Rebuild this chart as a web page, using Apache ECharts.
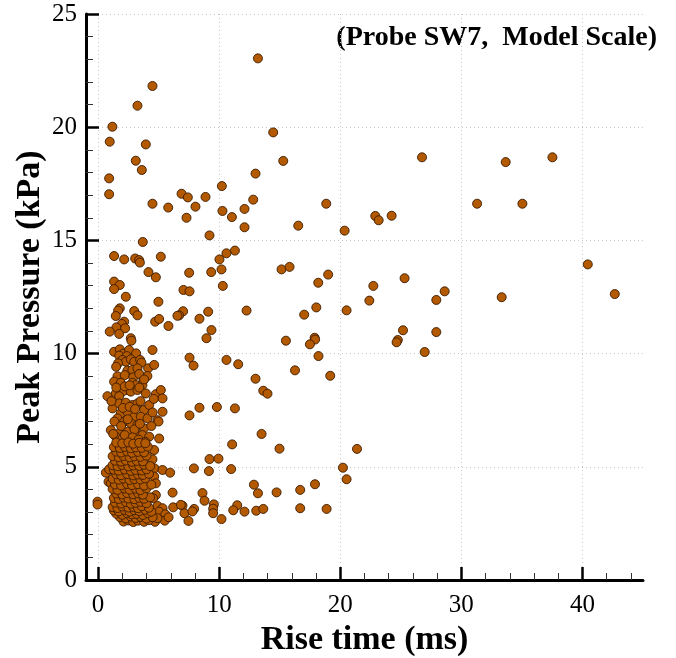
<!DOCTYPE html>
<html>
<head>
<meta charset="utf-8">
<script src="https://cdn.jsdelivr.net/npm/echarts@6/dist/echarts.min.js"></script>
<style>
html,body{margin:0;padding:0;background:#fff;}
#chart{width:676px;height:658px;}
</style>
</head>
<body>
<div id="chart"></div>
<script>
// Tick values
const xMajorTicks = [0, 10, 20, 30, 40];
const xMinorTicks = [2, 4, 6, 8, 12, 14, 16, 18, 22, 24, 26, 28, 32, 34, 36, 38, 42, 44];
const xTitle = 'Rise time (ms)';
const yTitle = 'Peak Pressure (kPa)';
const annotation = '(Probe SW7,  Model Scale)';

// [rise time (ms), peak pressure (kPa)] — sparse points
const sparsePoints = [
  [4.49,21.82],[3.25,20.95],[1.18,20.02],[0.96,19.36],[3.94,19.24],[3.11,18.52],[3.61,18.11],[0.91,17.74],[0.91,17.04],
  [4.49,16.62],[5.79,16.45],[6.89,17.06],[7.41,16.9],[8.04,16.49],[8.87,16.92],[7.30,16.0],[9.20,15.22],[10.22,17.40],
  [10.27,16.30],[3.69,14.93],[1.32,14.31],[2.15,14.16],[3.06,14.2],[3.39,14.13],[3.45,14.02],[5.18,14.28],[10.02,14.16],
  [13.2,23.04],[14.46,19.77],[15.29,18.51],[13.0,17.95],[12.81,16.80],[11.05,16.03],[12.09,16.39],[12.09,15.58],
  [16.53,15.65],[18.84,16.62],[20.36,15.43],[22.89,16.08],[23.17,15.89],[24.24,16.09],[11.30,14.55],[10.6,14.43],
  [9.34,13.6],[10.19,13.72],[15.15,13.72],[15.81,13.83],[19.0,13.49],[18.18,13.13],[10.3,12.99],[22.73,12.99],[25.31,13.33],
  [26.75,18.67],[33.66,18.46],[37.52,18.67],[31.3,16.62],[35.04,16.62],[40.44,13.94],[42.67,12.63],[33.33,12.49],
  [28.62,12.75],[27.93,12.37],[25.18,11.03],[24.75,10.6],[24.65,10.5],[27.93,10.95],[26.97,10.07],
  [7.05,12.81],[7.55,12.75],[22.4,12.34],[20.52,11.91],[18.02,12.04],[17.02,11.72],[12.26,11.9],[7.02,11.87],[6.69,11.69],
  [9.09,11.85],[8.37,11.54],[9.36,11.04],[8.95,10.68],[15.51,10.57],[17.88,10.7],[17.92,10.62],[17.49,10.41],[18.2,9.89],
  [7.55,9.82],[7.88,9.47],[10.6,9.72],[11.57,9.53],[16.26,9.26],[19.17,9.02],[13.0,8.89],[13.64,8.36],[13.99,8.23],
  [8.37,7.61],[9.81,7.64],[11.3,7.58],[7.55,7.27],[13.5,6.45],[11.07,5.99],[14.98,5.8],[21.38,5.79],[20.22,4.96],[20.52,4.45],
  [9.2,5.34],[9.94,5.36],[7.91,4.93],[9.15,4.81],[10.99,4.9],[12.87,4.21],[13.2,3.83],[14.74,3.87],[16.69,3.98],[17.91,4.23],
  [8.62,3.84],[8.79,3.5],[6.97,3.28],[7.13,2.95],[7.93,3.14],[7.79,3.03],[7.46,2.61],[9.56,3.34],[9.5,3.15],[9.5,2.95],
  [10.19,2.69],[11.49,3.3],[11.16,3.08],[12.09,3.02],[13.06,3.06],[13.64,3.14],[16.69,3.17],[18.87,3.14]
];

// upper part of the main cluster (about 8.8–14 kPa)
const upperCluster = [
  [4.16,13.6],[4.77,13.37],[7.52,13.57],[1.32,13.18],[1.79,13.03],[1.32,12.85],[2.29,12.51],[4.98,12.29],[1.79,12.0],
  [1.65,11.9],[1.46,11.66],[2.98,11.88],[3.25,11.69],[6.55,11.67],[4.71,11.41],[5.04,11.53],[5.81,11.22],[2.15,11.41],
  [1.96,11.31],[1.51,11.16],[2.23,11.12],[0.96,10.97],[1.74,10.87],[2.7,10.68],[2.75,10.57],[1.32,10.08],[1.79,10.19],
  [2.09,10.0],[2.56,10.16],[3.14,10.01],[4.49,10.16],[1.74,9.91],[2.37,9.89],[2.01,9.72],[2.29,9.64],[2.7,9.75],[1.65,9.57],
  [1.49,9.42],[2.98,9.64],[3.47,9.72],[3.58,9.6],[2.42,9.25],[2.83,9.28],[3.25,9.35],[4.13,9.35],[4.63,9.5],[4.07,9.01],[3.74,8.83],
  [1.6,9.0],[2.2,9.05],[2.9,8.95],[3.4,9.1]
];

// middle part of the main cluster (about 6–8.8 kPa)
const middleCluster = [
  [1.32,8.76],[1.87,8.71],[2.84,8.71],[3.11,8.61],[3.66,8.61],[3.8,8.86],[2.43,8.39],[2.01,8.32],[1.46,8.24],[0.77,8.12],
  [1.74,8.12],[2.7,8.32],[3.25,8.39],[3.94,8.24],[4.77,8.21],[5.18,8.39],[5.32,8.02],[1.19,7.58],[1.74,7.8],[2.29,7.83],
  [2.84,7.73],[3.25,7.8],[3.8,7.51],[4.22,7.73],[1.87,7.36],[2.43,7.43],[2.98,7.21],[3.53,7.21],[4.08,7.14],[1.6,7.14],
  [2.15,6.99],[2.7,6.92],[3.25,6.84],[3.8,6.7],[1.05,6.62],[1.74,6.48],[2.43,6.55],[3.11,6.48],[3.66,6.4],[4.22,6.33],
  [4.9,7.06],[4.99,7.0],[5.32,7.43],[5.04,6.25],[1.46,6.33],[2.01,6.25],[2.7,6.25],
  [1.5,8.5],[2.2,8.55],[2.6,8.6],[3.4,8.5],[1.1,7.9],[2.05,7.6],[2.6,7.65],[3.05,7.55],[3.5,7.9],[1.35,7.0],[1.9,6.8],
  [2.45,7.1],[3.0,6.65],[3.45,6.9],[4.4,6.8],[1.25,6.45],[2.2,6.4],[2.85,6.3],[3.35,6.2],[3.9,6.1],[4.5,7.4],[4.6,8.0]
];

// lower, densest part of the main cluster (about 2.5–6 kPa)
const lowerCluster = [
  [4.63,5.74],[4.49,5.33],[4.66,4.93],[5.32,4.86],[5.95,4.74],[6.15,3.86],[4.77,3.75],[4.55,3.61],[6.2,3.21],[4.91,3.27],
  [5.32,3.17],[5.04,3.02],[5.55,2.9],[4.7,2.57],[5.5,2.62],[5.82,2.77],[0.64,4.74],[0.86,4.34],[-0.05,3.46],[-0.05,3.33],
  [0.91,4.89],[1.05,4.27],[1.32,3.24],[6.83,3.32],[4.63,4.57],[4.77,4.27],[4.9,2.73],
  [2.1,2.58],[2.5,2.63],[2.9,2.56],[3.3,2.62],[3.8,2.57],[4.2,2.64],
  [1.8,2.78],[2.3,2.72],[2.7,2.8],[3.1,2.74],[3.5,2.79],[4.0,2.71],[4.5,2.77],
  [1.5,2.93],[2.0,2.88],[2.4,2.95],[2.8,2.9],[3.2,2.92],[3.7,2.87],[4.1,2.96],
  [1.3,3.07],[1.7,3.03],[2.2,3.09],[2.6,3.02],[3.0,3.08],[3.4,3.04],[3.9,3.1],[4.4,3.02],
  [1.2,3.22],[1.6,3.18],[2.0,3.25],[2.5,3.2],[2.9,3.23],[3.3,3.17],[3.6,3.26],[4.2,3.19],
  [1.4,3.42],[1.9,3.38],[2.3,3.44],[2.7,3.37],[3.1,3.41],[3.5,3.45],[4.0,3.39],
  [1.3,3.62],[1.7,3.58],[2.1,3.64],[2.5,3.6],[3.0,3.57],[3.4,3.63],[3.8,3.59],[4.3,3.65],
  [1.5,3.82],[2.0,3.78],[2.4,3.84],[2.9,3.79],[3.3,3.83],[3.7,3.77],
  [1.2,4.02],[1.6,3.98],[2.2,4.04],[2.6,3.99],[3.1,4.03],[3.5,3.97],[4.0,4.05],
  [1.4,4.22],[1.9,4.18],[2.4,4.24],[2.8,4.19],[3.3,4.23],[3.8,4.17],[4.4,4.21],
  [1.2,4.47],[1.7,4.43],[2.1,4.48],[2.6,4.42],[3.0,4.46],[3.5,4.44],[3.9,4.49],
  [1.5,4.67],[1.9,4.63],[2.4,4.68],[2.9,4.62],[3.3,4.66],[3.7,4.64],[4.2,4.69],
  [1.3,4.87],[1.7,4.83],[2.2,4.88],[2.7,4.82],[3.1,4.86],[3.6,4.84],[4.0,4.89],
  [1.2,5.07],[1.6,5.03],[2.0,5.08],[2.5,5.02],[2.9,5.06],[3.4,5.04],[3.8,5.09],[4.3,5.03],
  [1.4,5.27],[1.9,5.23],[2.3,5.28],[2.8,5.22],[3.2,5.26],[3.7,5.24],
  [1.2,5.47],[1.7,5.43],[2.1,5.48],[2.6,5.42],[3.0,5.46],[3.5,5.44],[4.0,5.49],
  [1.5,5.67],[1.9,5.63],[2.4,5.68],[2.8,5.62],[3.3,5.66],[3.8,5.64],
  [1.3,5.87],[1.8,5.83],[2.2,5.88],[2.7,5.82],[3.1,5.86],[3.6,5.84],[4.1,5.89],
  [1.5,6.07],[2.0,6.03],[2.5,6.08],[2.9,6.02],[3.4,6.06],[3.9,6.04]
];

const allPoints = [].concat(sparsePoints, upperCluster, middleCluster, lowerCluster);

const chart = echarts.init(document.getElementById('chart'), null, {renderer: 'canvas'});
const serif = '"Liberation Serif", "Times New Roman", serif';
const gridDot = {show: true, lineStyle: {color: '#c8c8c8', type: [1, 3], width: 1}};

chart.setOption({
  animation: false,
  backgroundColor: '#ffffff',
  grid: {left: 86, right: 33, top: 14, bottom: 78, containLabel: false, outerBoundsMode: 'none'},
  xAxis: [
    {
      type: 'value', min: -1, max: 45,
      name: xTitle, nameLocation: 'middle', nameGap: 39,
      nameTextStyle: {fontFamily: serif, fontWeight: 'bold', fontSize: 34, color: '#000'},
      axisLine: {show: true, onZero: false, lineStyle: {color: '#000', width: 3}},
      axisTick: {show: true, inside: true, length: 13, customValues: xMajorTicks, lineStyle: {color: '#000', width: 2.5}},
      axisLabel: {show: true, customValues: xMajorTicks, margin: 13, fontFamily: serif, fontSize: 25, color: '#000'},
      splitLine: gridDot
    },
    {
      type: 'value', min: -1, max: 45, position: 'bottom',
      axisLine: {show: false},
      axisTick: {show: true, inside: true, length: 7, customValues: xMinorTicks, lineStyle: {color: '#333', width: 1}},
      axisLabel: {show: false},
      splitLine: {show: false}
    }
  ],
  yAxis: {
    type: 'value', min: 0, max: 25, interval: 5,
    name: yTitle, nameLocation: 'middle', nameGap: 39, nameMoveOverlap: false,
    nameTextStyle: {fontFamily: serif, fontWeight: 'bold', fontSize: 34, color: '#000'},
    axisLine: {show: true, onZero: false, lineStyle: {color: '#000', width: 3}},
    axisTick: {show: true, inside: true, length: 13, lineStyle: {color: '#000', width: 2.5}},
    minorTick: {show: true, splitNumber: 5, length: 7, lineStyle: {color: '#333', width: 1}},
    axisLabel: {margin: 9, fontFamily: serif, fontSize: 25, color: '#000'},
    splitLine: gridDot
  },
  graphic: [{
    type: 'text', right: 19, top: 24,
    style: {text: annotation, fontFamily: serif, fontWeight: 'bold', fontSize: 28, fill: '#000'}
  }],
  series: [{
    type: 'scatter',
    xAxisIndex: 0,
    data: allPoints,
    symbol: 'circle',
    symbolSize: 9,
    itemStyle: {color: '#b35900', borderColor: '#3a1a00', borderWidth: 0.9, opacity: 1}
  }]
});
</script>
</body>
</html>
